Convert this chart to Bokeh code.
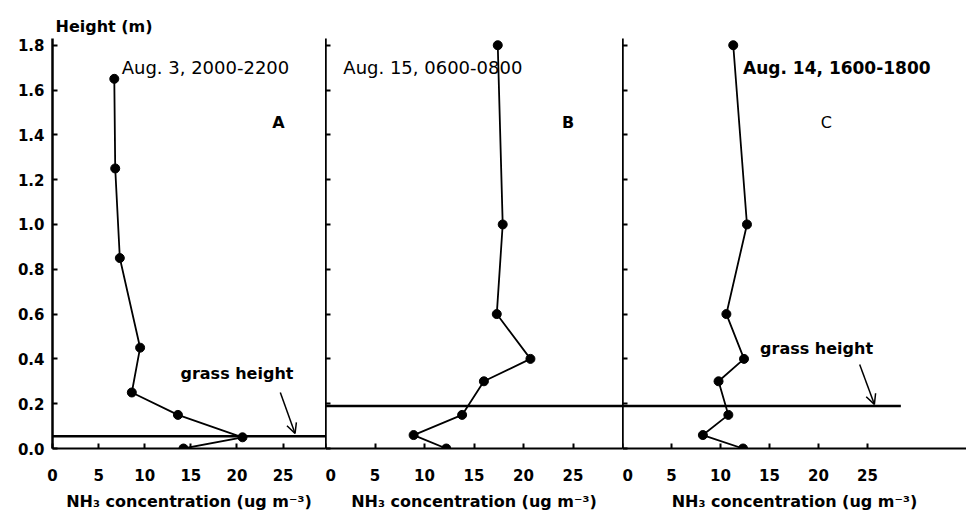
from bokeh.plotting import figure
from bokeh.layouts import row
from bokeh.models import FixedTicker, Label, Arrow, OpenHead, Range1d, NumeralTickFormatter
from bokeh.embed import file_html
from bokeh.resources import INLINE

# ---- data ----
heights_a = [1.65, 1.25, 0.85, 0.45, 0.25, 0.15, 0.05, 0.0]
conc_a = [6.7, 6.8, 7.3, 9.5, 8.6, 13.6, 20.6, 14.2]
heights_bc = [1.8, 1.0, 0.6, 0.4, 0.3, 0.15, 0.06, 0.0]
conc_b = [17.4, 17.9, 17.3, 20.7, 16.0, 13.8, 8.9, 12.2]
conc_c = [11.3, 12.7, 10.6, 12.4, 9.8, 10.8, 8.2, 12.3]
grass_a = 0.055
grass_bc = 0.19
x_ticks = [0, 5, 10, 15, 20, 25]
y_ticks = [0.0, 0.2, 0.4, 0.6, 0.8, 1.0, 1.2, 1.4, 1.6, 1.8]
titles = ["Aug. 3, 2000-2200", "Aug. 15, 0600-0800", "Aug. 14, 1600-1800"]
letters = ["A", "B", "C"]
x_label = "NH\u2083 concentration (ug m\u207b\u00b3)"
y_title = "Height (m)"

FONT = "DejaVu Sans"
Y_TOP = 1.83
H = 514
TOP = 38
BOTTOM = 66


def make_panel(width, xmax, left, show_ylabels):
    p = figure(width=width, height=H, output_backend="svg", toolbar_location=None,
               x_range=Range1d(0, xmax), y_range=Range1d(0, Y_TOP),
               min_border_left=left, min_border_right=0,
               min_border_top=TOP, min_border_bottom=BOTTOM)
    p.outline_line_color = None
    p.xgrid.visible = False
    p.ygrid.visible = False
    p.background_fill_color = "white"
    p.border_fill_color = "white"

    xa = p.xaxis[0]
    xa.ticker = FixedTicker(ticks=x_ticks)
    xa.major_tick_in = 5
    xa.major_tick_out = 0
    xa.minor_tick_in = 0
    xa.minor_tick_out = 0
    xa.axis_line_width = 2
    xa.axis_line_color = "black"
    xa.major_tick_line_width = 2
    xa.major_label_text_font = FONT
    xa.major_label_text_font_style = "bold"
    xa.major_label_text_font_size = "15px"
    xa.major_label_text_color = "black"
    xa.major_label_standoff = 20
    xa.axis_label = x_label
    xa.axis_label_text_font = FONT
    xa.axis_label_text_font_style = "bold"
    xa.axis_label_text_font_size = "16px"
    xa.axis_label_text_color = "black"
    xa.axis_label_standoff = 8

    ya = p.yaxis[0]
    ya.axis_line_width = 2.5
    ya.axis_line_color = "black"
    if show_ylabels:
        ya.ticker = FixedTicker(ticks=y_ticks)
        ya.formatter = NumeralTickFormatter(format="0.0")
        ya.major_tick_in = 5
        ya.major_tick_out = 0
        ya.minor_tick_in = 0
        ya.minor_tick_out = 0
        ya.major_tick_line_width = 2
        ya.major_label_text_font = FONT
        ya.major_label_text_font_style = "bold"
        ya.major_label_text_font_size = "15px"
        ya.major_label_text_color = "black"
        ya.major_label_standoff = 8
    else:
        # tick marks only, no labels (drawn as minor ticks)
        ya.ticker = FixedTicker(ticks=[], minor_ticks=y_ticks)
        ya.major_tick_in = 0
        ya.major_tick_out = 0
        ya.minor_tick_in = 5
        ya.minor_tick_out = 0
        ya.minor_tick_line_width = 2
        ya.minor_tick_line_color = "black"
        ya.major_label_standoff = 0
    return p


pa = make_panel(325, 29.6, 52, True)
pb = make_panel(297, 30.0, 0, False)
pc = make_panel(344, 35.1, 0, False)

pa.title.text = y_title
pa.title.align = "left"
pa.title.text_font = FONT
pa.title.text_font_size = "16px"
pa.title.text_font_style = "bold"
pa.title.text_color = "black"
pa.title.offset = 3
pa.title.standoff = 5

# grass height lines
pa.line([0, 29.6], [grass_a, grass_a], line_color="black", line_width=2.5)
pb.line([0, 30.0], [grass_bc, grass_bc], line_color="black", line_width=2.5)
pc.line([0, 28.4], [grass_bc, grass_bc], line_color="black", line_width=2.5)

# profiles
for p, xs, ys in [(pa, conc_a, heights_a), (pb, conc_b, heights_bc), (pc, conc_c, heights_bc)]:
    p.line(xs, ys, line_color="black", line_width=1.8)
    p.scatter(xs, ys, size=9, fill_color="black", line_color="black")

# panel texts
title_styles = ["normal", "normal", "bold"]
title_sizes = ["18px", "18px", "17px"]
title_x = [7.5, 1.8, 12.3]
letter_x = [24.5, 24.5, 20.8]
letter_styles = ["bold", "bold", "normal"]
for i, p in enumerate([pa, pb, pc]):
    p.add_layout(Label(x=title_x[i], y=1.70, text=titles[i], text_font=FONT,
                       text_font_size=title_sizes[i], text_font_style=title_styles[i],
                       text_baseline="middle", text_align="left", text_color="black"))
    p.add_layout(Label(x=letter_x[i], y=1.455, text=letters[i], text_font=FONT,
                       text_font_size="16px", text_font_style=letter_styles[i],
                       text_baseline="middle", text_align="center", text_color="black"))

# grass height annotations
pa.add_layout(Label(x=20.0, y=0.335, text="grass height", text_font=FONT,
                    text_font_size="16px", text_font_style="bold",
                    text_baseline="middle", text_align="center", text_color="black"))
pa.add_layout(Arrow(end=OpenHead(size=10, line_width=1.5, line_color="black"),
                    x_start=24.7, y_start=0.25, x_end=26.3, y_end=0.067,
                    line_width=1.5, line_color="black"))
pc.add_layout(Label(x=19.8, y=0.447, text="grass height", text_font=FONT,
                    text_font_size="16px", text_font_style="bold",
                    text_baseline="middle", text_align="center", text_color="black"))
pc.add_layout(Arrow(end=OpenHead(size=10, line_width=1.5, line_color="black"),
                    x_start=24.2, y_start=0.375, x_end=25.7, y_end=0.197,
                    line_width=1.5, line_color="black"))

layout = row(pa, pb, pc, spacing=0)
open("out.html", "w").write(file_html(layout, INLINE))
